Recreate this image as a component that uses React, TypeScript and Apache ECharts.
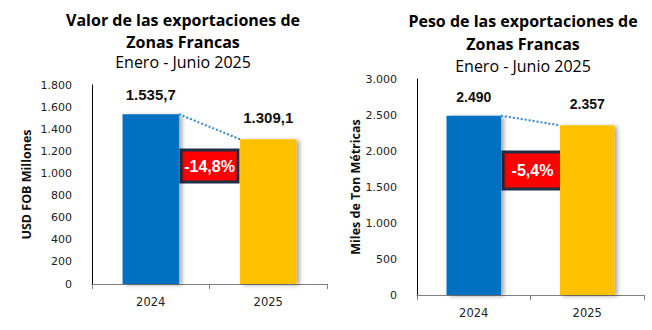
import React, { useEffect, useRef } from "react";
import * as echarts from "echarts";

const categories = ["2024", "2025"];
const valorValues = [1535.7, 1309.1];
const valorLabels = ["1.535,7", "1.309,1"];
const valorChange = "-14,8%";
const pesoValues = [2490, 2357];
const pesoLabels = ["2.490", "2.357"];
const pesoChange = "-5,4%";
const valorTicks = { min: 0, max: 1800, interval: 200 };
const pesoTicks = { min: 0, max: 3000, interval: 500 };
const barColors = ["#0070c0", "#ffc000"];

const fmt = (v: number) => v.toLocaleString("de-DE");

export default function App() {
  const ref = useRef<HTMLDivElement>(null);
  useEffect(() => {
    const chart = echarts.init(ref.current!, null, { renderer: "svg" });
    const connector = (gi: number, vals: number[]) => ({
      type: "custom",
      xAxisIndex: gi,
      yAxisIndex: gi,
      silent: true,
      z: 5,
      data: [[0, vals[0], vals[1]]],
      renderItem: (params: any, api: any) => {
        const p0 = api.coord([0, api.value(1)]);
        const p1 = api.coord([1, api.value(2)]);
        const half = (api.size([1, 0])[0] * 0.48) / 2;
        return {
          type: "line",
          shape: { x1: p0[0] + half, y1: p0[1], x2: p1[0] - half, y2: p1[1] },
          style: { stroke: "#2f86d1", lineWidth: 2, lineDash: [2, 2] },
        };
      },
    });
    const bars = (gi: number, vals: number[], labels: string[], fs: number) => ({
      type: "bar",
      xAxisIndex: gi,
      yAxisIndex: gi,
      barWidth: "48%",
      data: vals.map((v, i) => ({
        value: v,
        itemStyle: {
          color: barColors[i],
          shadowColor: "rgba(0,0,0,0.35)",
          shadowBlur: 4,
          shadowOffsetX: 3,
          shadowOffsetY: 1,
        },
        label: {
          show: true,
          position: "top",
          distance: i === 0 ? 12 : 14,
          formatter: labels[i],
          fontFamily: "Liberation Sans",
          fontWeight: "bold",
          fontSize: fs,
          color: "#111",
        },
      })),
    });
    const xAxis = (gi: number) => ({
      type: "category",
      gridIndex: gi,
      data: categories,
      axisLine: { lineStyle: { color: "#808080", width: 1 } },
      axisTick: { show: true, length: 5, lineStyle: { color: "#808080" } },
      axisLabel: { fontFamily: "DejaVu Sans", fontSize: 11.5, color: "#222", margin: 12 },
    });
    const yAxis = (gi: number, t: any, name: string, gap: number) => ({
      type: "value",
      gridIndex: gi,
      min: t.min,
      max: t.max,
      interval: t.interval,
      name,
      nameLocation: "middle",
      nameRotate: 90,
      nameGap: gap,
      nameTextStyle: { fontFamily: "Open Sans", fontWeight: "bold", fontSize: 12.5, color: "#111" },
      axisLine: { show: true, lineStyle: { color: "#000", width: 1 } },
      axisTick: { show: false },
      splitLine: { show: false },
      axisLabel: { formatter: (v: number) => fmt(v), fontFamily: "DejaVu Sans", fontSize: 11, color: "#222", margin: 20 },
    });
    const titleText = (x: number, y: number, text: string, bold: boolean) => ({
      type: "text",
      x,
      y,
      style: {
        text,
        textAlign: "center",
        textVerticalAlign: "middle",
        fontFamily: "Open Sans",
        fontWeight: bold ? "bold" : "normal",
        fontSize: 16,
        fill: "#000",
      },
    });
    const box = (x: number, y: number, w: number, h: number, text: string) => ({
      type: "group",
      x,
      y,
      z: 10,
      children: [
        { type: "rect", shape: { x: 0, y: 0, width: w, height: h }, style: { fill: "#ff0000", stroke: "#1f3044", lineWidth: 3 } },
        {
          type: "text",
          x: w / 2,
          y: h / 2,
          style: {
            text,
            textAlign: "center",
            textVerticalAlign: "middle",
            fontFamily: "Liberation Sans",
            fontWeight: "bold",
            fontSize: 16,
            fill: "#fff",
          },
        },
      ],
    });
    chart.setOption({
      animation: false,
      backgroundColor: "#fff",
      grid: [
        { left: 92, top: 85, width: 235, height: 199 },
        { left: 417, top: 79, width: 227, height: 216 },
      ],
      xAxis: [xAxis(0), xAxis(1)],
      yAxis: [
        yAxis(0, valorTicks, "USD FOB Millones", 59),
        yAxis(1, pesoTicks, "Miles de Ton Métricas", 55),
      ],
      series: [
        bars(0, valorValues, valorLabels, 15),
        bars(1, pesoValues, pesoLabels, 14),
        connector(0, valorValues),
        connector(1, pesoValues),
      ],
      graphic: [
        titleText(183, 20, "Valor de las exportaciones de", true),
        titleText(183, 42, "Zonas Francas", true),
        titleText(183, 62, "Enero - Junio 2025", false),
        titleText(523, 21, "Peso de las exportaciones de", true),
        titleText(523, 44, "Zonas Francas", true),
        titleText(523, 66, "Enero - Junio 2025", false),
        box(181, 150, 57, 32, valorChange),
        box(503, 152, 59, 37, pesoChange),
      ],
    });
    return () => chart.dispose();
  }, []);
  return <div ref={ref} style={{ position: "fixed", left: 0, top: 0, width: 652, height: 330 }} />;
}
